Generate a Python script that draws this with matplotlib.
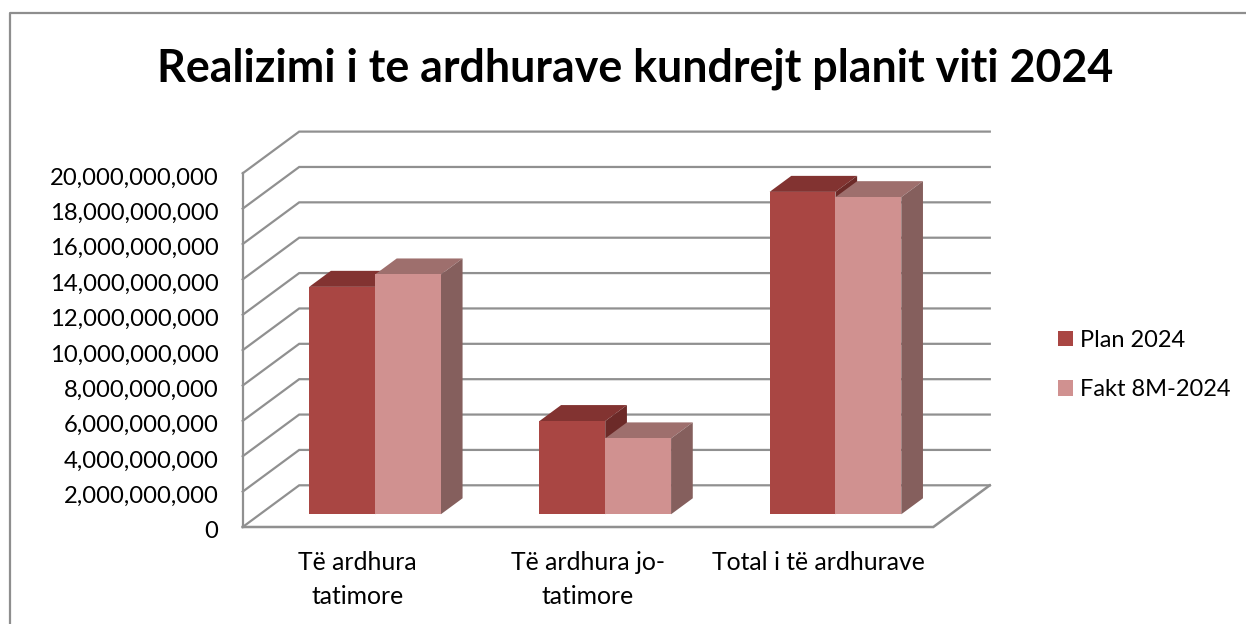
import matplotlib
matplotlib.use("Agg")
import matplotlib.pyplot as plt
from matplotlib.lines import Line2D
from matplotlib.patches import Patch
from matplotlib.ticker import StrMethodFormatter
from matplotlib.transforms import ScaledTranslation

# Data
categories = ["Të ardhura\ntatimore", "Të ardhura jo-\ntatimore", "Total i të ardhurave"]
plan_2024 = [12.86e9, 5.27e9, 18.23e9]
fakt_8m = [13.56e9, 4.29e9, 17.93e9]
y_ticks = list(range(0, 20000000001, 2000000000))

W, H = 1246, 624
plt.rcParams["font.family"] = ["Lato", "DejaVu Sans"]
fig = plt.figure(figsize=(W / 100, H / 100), dpi=100)

# front plane of the fake 3D box, in pixels from the top left
left, right, top, bottom = 242.7, 933.3, 173.3, 527.0
ax = fig.add_axes([left / W, 1 - bottom / H, (right - left) / W, (bottom - top) / H])
ax.set_xlim(0, 3)
ax.set_ylim(0, 20e9)
ax.patch.set_visible(False)
for s in ax.spines.values():
    s.set_visible(False)

# one unit of depth moves this far on the data axes
depth_x = 56.5 / ((right - left) / 3)
depth_y = 41.7 / ((bottom - top) / 20e9)

grid_col = "#909090"
bar_w = 0.286
gap = 0.214
d_front, d_back = 0.305, 0.689


def shift(x, y, d):
    return x + d * depth_x, y + d * depth_y


# walls and gridlines
for v in y_ticks:
    x0, y0 = shift(0, v, 0)
    x1, y1 = shift(0, v, 1)
    x2, y2 = shift(3, v, 1)
    ax.plot([x0, x1, x2], [y0, y1, y2], color=grid_col, lw=1.6, clip_on=False,
            solid_joinstyle="miter", zorder=1)
fx, fy = shift(3, 0, 1)
ax.plot([0, 0], [0, 20e9], color=grid_col, lw=1.6, clip_on=False, zorder=1)
ax.plot([0, 3, fx], [0, 0, fy], color=grid_col, lw=1.8, clip_on=False,
        solid_joinstyle="miter", zorder=1)


def draw_bar(x, val, front, side, roof, z):
    base = d_front * depth_y
    xf = x + d_front * depth_x
    xb = xf + bar_w
    top_y = val + base
    dx = (d_back - d_front) * depth_x
    dy = (d_back - d_front) * depth_y
    ax.fill([xf, xb, xb + dx, xf + dx], [top_y, top_y, top_y + dy, top_y + dy],
            color=roof, lw=0, clip_on=False, zorder=z)
    ax.fill([xb, xb + dx, xb + dx, xb], [base, base + dy, top_y + dy, top_y],
            color=side, lw=0, clip_on=False, zorder=z)
    ax.bar(xf, val, bar_w, bottom=base, align="edge", color=front, lw=0,
           clip_on=False, zorder=z + 0.1)


c_plan = ("#A94643", "#6C2A28", "#823331")
c_fakt = ("#D09190", "#855F5D", "#9E6F6D")
for i in range(len(categories)):
    draw_bar(i + gap, plan_2024[i], *c_plan, 3)
    draw_bar(i + gap + bar_w, fakt_8m[i], *c_fakt, 4)

ax.set_yticks(y_ticks)
ax.yaxis.set_major_formatter(StrMethodFormatter("{x:,.0f}"))
ax.set_xticks([0.5, 1.5, 2.5])
ax.set_xticklabels(categories, linespacing=1.62)
ax.tick_params(axis="y", length=0, pad=17.5, labelsize=17.2, labelcolor="black")
ax.tick_params(axis="x", length=0, pad=17, labelsize=17.8, labelcolor="black")
nudge = ScaledTranslation(0, -2 / 72, fig.dpi_scale_trans)
for lab in ax.get_yticklabels():
    lab.set_transform(lab.get_transform() + nudge)

fig.text(635 / W, 1 - 81 / H, "Realizimi i te ardhurave kundrejt planit viti 2024",
         ha="center", va="baseline", fontsize=32.2, fontweight="bold", color="black")

handles = [Patch(color=c_plan[0], lw=0), Patch(color=c_fakt[0], lw=0)]
fig.legend(handles, ["Plan 2024", "Fakt 8M-2024"], loc="center left",
           bbox_to_anchor=(1053 / W, 1 - 365 / H), frameon=False, fontsize=17,
           handlelength=0.63, handleheight=0.63, handletextpad=0.3,
           labelspacing=1.22, borderpad=0.2, borderaxespad=0)

# outer chart border, runs off the right and bottom of the crop
fig.add_artist(Line2D([9.5 / W, 9.5 / W, 1], [0, 1 - 12.8 / H, 1 - 12.8 / H],
                      color="#8E8E8E", lw=1.6, transform=fig.transFigure))

fig.savefig("out.png", dpi=100)
